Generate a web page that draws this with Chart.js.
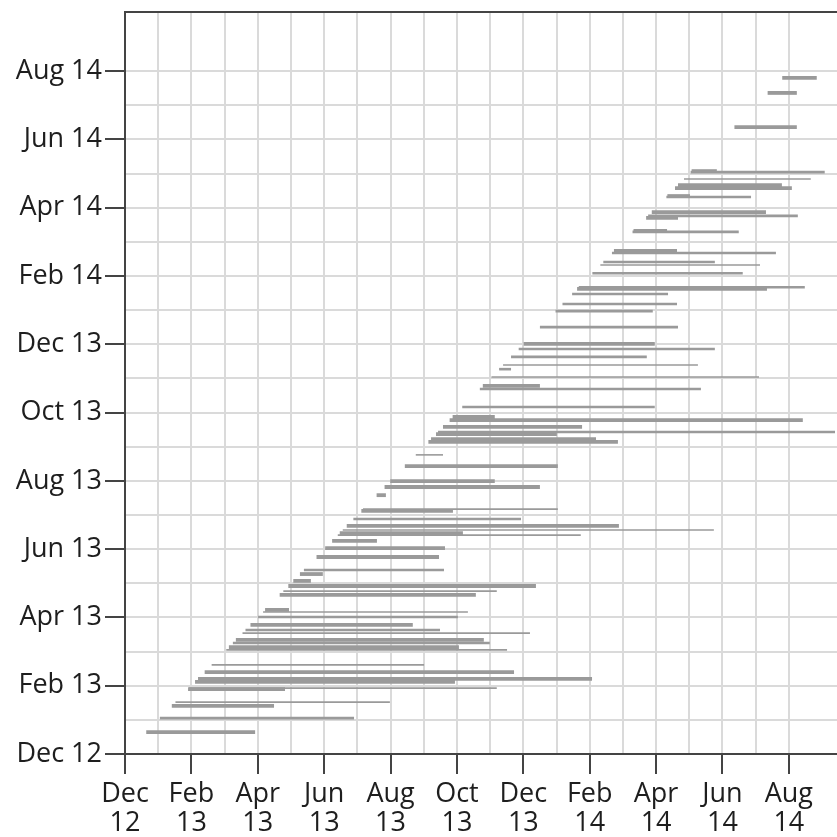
<!DOCTYPE html>
<html>
<head>
<meta charset="utf-8">
<script src="https://cdn.jsdelivr.net/npm/chart.js@4/dist/chart.umd.min.js"></script>
<style>
html,body{margin:0;padding:0;background:#fff;}
#wrap{width:837px;height:837px;}
</style>
</head>
<body>
<div id="wrap"><canvas id="c" width="837" height="837"></canvas></div>
<script>
// Months since 1 Dec 2012
const tickValues = [0, 2, 4, 6, 8, 10, 12, 14, 16, 18, 20];
const tickLabels = ['Dec 12','Feb 13','Apr 13','Jun 13','Aug 13','Oct 13','Dec 13','Feb 14','Apr 14','Jun 14','Aug 14'];

// Each segment: start (month, used for both row and left end), end (month), weight
const starts = [0.64,1.05,1.41,1.52,1.90,1.93,2.11,2.20,2.40,2.61,
  3.13,3.05,3.25,3.34,3.54,3.63,3.78,4.01,4.16,4.22,
  4.66,4.77,4.92,5.07,5.27,5.39,5.77,6.03,6.24,6.47,
  6.41,6.56,6.68,6.88,7.12,7.17,7.58,7.82,7.99,8.43,
  8.76,9.14,9.22,9.37,9.43,9.58,9.78,9.87,10.16,10.69,
  10.78,11.04,11.27,11.39,11.63,11.86,12.01,12.50,12.97,13.18,
  13.47,13.62,13.67,14.08,14.32,14.41,14.73,14.67,15.32,15.29,
  15.70,15.76,15.87,16.34,16.31,16.57,16.66,16.84,17.07,17.04,
  18.36,19.36,19.80];
const ends = [3.92,6.90,4.49,7.98,4.82,11.20,9.94,14.07,11.72,9.01,
  10.06,11.51,10.99,10.81,12.20,9.49,8.67,10.03,10.33,4.94,
  10.57,11.20,12.38,5.60,5.96,9.61,9.46,9.64,7.59,10.18,
  13.73,17.74,14.88,11.93,9.88,13.04,7.86,12.50,11.14,13.04,
  9.58,14.85,14.19,13.01,21.39,13.77,20.42,11.14,15.96,17.35,
  12.50,19.10,11.63,17.26,15.72,17.77,15.96,16.66,15.90,16.63,
  16.36,19.34,20.48,18.61,19.13,17.77,16.63,19.61,16.33,18.49,
  16.66,20.27,19.31,17.02,18.86,20.09,19.79,20.66,17.83,21.08,
  20.24,20.24,20.84];
const weights = [3,2,3,1,3,1,3,3,3,1,
  3,1,2,3,1,2,3,2,1,3,
  3,1,3,3,3,2,3,3,3,3,
  1,1,3,2,3,1,3,3,3,3,
  1,3,3,3,2,3,3,3,2,2,
  3,1,2,1,2,2,3,2,2,2,
  2,3,2,2,1,2,3,2,3,2,
  3,2,3,3,2,3,3,1,3,2,
  3,3,3];

const X_MAX = 21.45, Y_MAX = 21.73;
const widthFor = {1: 1.6, 2: 2.6, 3: 3.8};
const datasets = starts.map((s, i) => ({
  data: [{x: s, y: s}, {x: ends[i], y: s}],
  showLine: true,
  borderColor: '#9a9a9a',
  borderWidth: widthFor[weights[i]],
  borderCapStyle: 'butt',
  pointRadius: 0,
  pointHoverRadius: 0,
  fill: false
}));

const labelFor = v => { const k = tickValues.indexOf(v); return k >= 0 ? tickLabels[k] : ''; };
const isMajor = v => tickValues.indexOf(v) >= 0;
const FONT = {family: '"Open Sans", sans-serif', size: 27, lineHeight: 1.1};

new Chart(document.getElementById('c'), {
  type: 'scatter',
  data: {datasets},
  options: {
    responsive: false,
    animation: false,
    events: [],
    layout: {padding: {top: 12, right: 0, left: 0, bottom: 0}},
    plugins: {legend: {display: false}, tooltip: {enabled: false}},
    scales: {
      x: {
        type: 'linear', min: 0, max: X_MAX,
        afterFit: s => { s.height = 83; s.paddingLeft = 0; s.paddingRight = 0; },
        border: {color: '#444', width: 2},
        grid: {
          color: c => (c.tick && c.tick.value === X_MAX) ? 'rgba(0,0,0,0)' : '#dadada',
          lineWidth: 2,
          tickLength: 20,
          tickColor: c => (c.tick && isMajor(c.tick.value)) ? '#444' : 'rgba(0,0,0,0)',
          tickWidth: 2
        },
        ticks: {
          stepSize: 1, autoSkip: false, maxRotation: 0, minRotation: 0,
          padding: 5, color: '#1e1e1e', font: FONT,
          callback: v => { const l = labelFor(v); return l ? l.split(' ') : ''; }
        }
      },
      y: {
        type: 'linear', min: 0, max: Y_MAX,
        afterFit: s => { s.width = 125; s.paddingTop = 0; s.paddingBottom = 0; },
        border: {color: '#444', width: 2},
        grid: {
          color: c => (c.tick && c.tick.value === Y_MAX) ? '#444' : '#dadada',
          lineWidth: 2,
          tickLength: 20,
          tickColor: c => (c.tick && isMajor(c.tick.value)) ? '#444' : 'rgba(0,0,0,0)',
          tickWidth: 2
        },
        ticks: {
          stepSize: 1, autoSkip: false,
          padding: 3, color: '#1e1e1e', font: FONT,
          callback: v => labelFor(v)
        }
      }
    }
  }
});
</script>
</body>
</html>
